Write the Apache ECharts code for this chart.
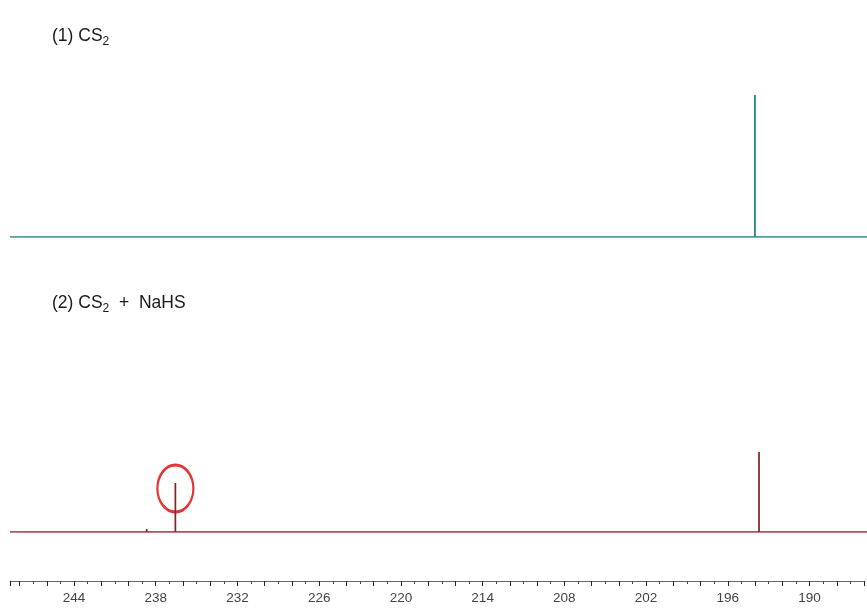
<!DOCTYPE html>
<html>
<head>
<meta charset="utf-8">
<script src="https://cdn.jsdelivr.net/npm/echarts@6/dist/echarts.min.js"></script>
<style>html,body{margin:0;padding:0;background:#fff}#c{width:867px;height:608px}</style>
</head>
<body>
<div id="c"></div>
<script>
// Chemical shift (ppm) and intensity of spectrum (1) CS2
const ppm1 = [248.7, 194.2, 194.2, 194.2, 186];
const int1 = [0, 0, 94.7, 0, 0];
// Spectrum (2) CS2 + NaHS
const ppm2 = [248.7, 238.7, 238.7, 238.7, 236.6, 236.6, 236.6, 193.9, 193.9, 193.9, 186];
const int2 = [0, 0, 2, 0, 0, 32.7, 0, 0, 53.3, 0, 0];
// Circled peak
const circled = [[236.6, 29]];
const tickLabels = [244, 238, 232, 226, 220, 214, 208, 202, 196, 190];
const titles = ['(1) CS{s|2}', '(2) CS{s|2}  +  NaHS'];

const chart = echarts.init(document.getElementById('c'));
const xBase = {type: 'value', min: 186, max: 248.7, inverse: true, interval: 2};
const titleStyle = {fontFamily: 'Liberation Sans', fontSize: 17.5, fontWeight: 'normal', color: '#1a1a1a',
  rich: {s: {fontSize: 12, padding: [11, 0, 0, 0], fontFamily: 'Liberation Sans', color: '#1a1a1a'}}};
chart.setOption({
  animation: false,
  title: [
    {text: titles[0], left: 47, top: 20, textStyle: titleStyle},
    {text: titles[1], left: 47, top: 287, textStyle: titleStyle}
  ],
  grid: [
    {left: 10, right: 0, top: 87, height: 150},
    {left: 10, right: 0, top: 382, height: 150},
    {left: 10, right: 0, top: 430, height: 151}
  ],
  xAxis: [
    Object.assign({gridIndex: 0, show: false}, xBase),
    Object.assign({gridIndex: 1, show: false}, xBase),
    Object.assign({gridIndex: 2, show: true,
      axisLine: {lineStyle: {color: '#666', width: 1}},
      axisTick: {show: true, length: 5, lineStyle: {color: '#222'}},
      minorTick: {show: true, splitNumber: 2, length: 3, lineStyle: {color: '#444'}},
      splitLine: {show: false},
      axisLabel: {color: '#444', fontFamily: 'Liberation Sans', fontSize: 13.5, margin: 10,
        formatter: v => tickLabels.indexOf(v) >= 0 ? String(v) : ''}
    }, xBase)
  ],
  yAxis: [
    {gridIndex: 0, type: 'value', min: 0, max: 100, show: false},
    {gridIndex: 1, type: 'value', min: 0, max: 100, show: false},
    {gridIndex: 2, type: 'value', min: 0, max: 100, show: false}
  ],
  series: [
    {type: 'line', xAxisIndex: 0, yAxisIndex: 0, data: ppm1.map((p, i) => [p, int1[i]]),
      symbol: 'none', lineStyle: {color: '#16807f', width: 1.7}},
    {type: 'line', xAxisIndex: 1, yAxisIndex: 1, data: ppm2.map((p, i) => [p, int2[i]]),
      symbol: 'none', lineStyle: {color: '#862222', width: 1.7}},
    {type: 'scatter', xAxisIndex: 1, yAxisIndex: 1, data: circled,
      symbol: 'circle', symbolSize: [36, 47],
      itemStyle: {color: 'rgba(0,0,0,0)', borderColor: '#e00000', borderWidth: 2.5}}
  ]
});
</script>
</body>
</html>
